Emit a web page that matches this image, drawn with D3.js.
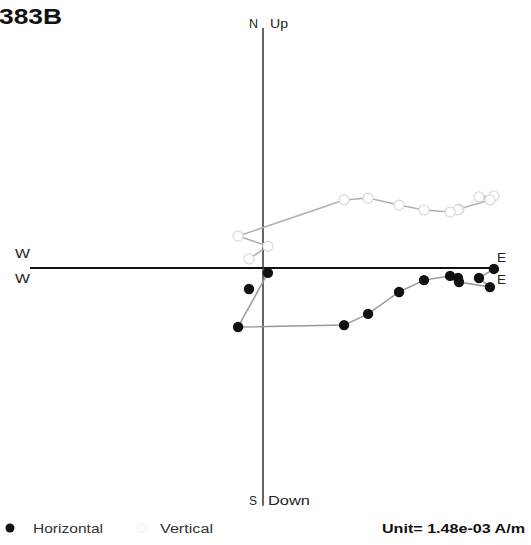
<!DOCTYPE html>
<html><head><meta charset="utf-8">
<script src="https://cdn.jsdelivr.net/npm/d3@7"></script>
<style>body{margin:0;background:#fff}svg{display:block}text{font-family:"Liberation Sans",Arial,sans-serif}</style>
</head><body>
<script>
// Demagnetization steps (arbitrary units; 1 axis half-length = 1)
const east  = [0.991, 0.927, 0.974, 0.841, 0.837, 0.803, 0.691, 0.584, 0.451, 0.348, -0.107, 0.021, -0.060];
const north = [-0.004,-0.043,-0.082,-0.060,-0.043,-0.034,-0.052,-0.103,-0.197,-0.245,-0.253,-0.021,-0.090];
const up    = [0.309, 0.305, 0.292, 0.253, 0.249, 0.240, 0.249, 0.270, 0.300, 0.292, 0.137, 0.094, 0.039];
const hConnected = 12; // horizontal line joins the first 12 steps
const title = "383B";
const unitLabel = "Unit= 1.48e-03 A/m";
const legendLabels = ["Horizontal", "Vertical"];

const W = 531, H = 545;
const svg = d3.select("body").append("svg").attr("width", W).attr("height", H);
const x = d3.scaleLinear().domain([-1, 1]).range([30, 496]);
const y = d3.scaleLinear().domain([-1, 1]).range([501, 35]);

// axes
svg.append("line").attr("x1", x(-1)).attr("x2", x(1.005)).attr("y1", y(0)).attr("y2", y(0))
  .attr("stroke", "#111").attr("stroke-width", 1.8);
svg.append("line").attr("x1", x(0)).attr("x2", x(0)).attr("y1", y(1.03)).attr("y2", y(-1.02))
  .attr("stroke", "#333").attr("stroke-width", 1.5);

function label(t, px, py, len, opts = {}) {
  svg.append("text").attr("x", px).attr("y", py).text(t)
    .attr("font-size", opts.size || 13).attr("font-weight", opts.bold ? "bold" : "normal")
    .attr("fill", opts.fill || "#222")
    .attr("textLength", len).attr("lengthAdjust", "spacingAndGlyphs");
}
label("N", 249, 28, 9); label("Up", 270, 28, 18);
label("S", 249, 505, 8); label("Down", 268, 505, 42);
label("W", 15, 258, 15); label("W", 15, 283, 15);
label("E", 497, 262, 9); label("E", 497, 284, 9);
label(title, -1, 24, 63, {size: 22, bold: true, fill: "#111"});

const idx = d3.range(east.length);
const lineV = d3.line().x(i => x(east[i])).y(i => y(up[i]));
const lineH = d3.line().x(i => x(east[i])).y(i => y(north[i]));

// vertical projection
svg.append("path").attr("d", lineV(idx)).attr("fill", "none").attr("stroke", "#b0b0b0").attr("stroke-width", 1.5);
svg.selectAll("circle.v").data(idx).join("circle").attr("class", "v")
  .attr("cx", i => x(east[i])).attr("cy", i => y(up[i])).attr("r", 5)
  .attr("fill", "#fff").attr("stroke", "#d8d8d8").attr("stroke-width", 1.2);

// horizontal projection
svg.append("path").attr("d", lineH(idx.slice(0, hConnected))).attr("fill", "none").attr("stroke", "#999").attr("stroke-width", 1.5);
svg.selectAll("circle.h").data(idx).join("circle").attr("class", "h")
  .attr("cx", i => x(east[i])).attr("cy", i => y(north[i])).attr("r", 5.2)
  .attr("fill", "#111");

// legend
svg.append("circle").attr("cx", 10).attr("cy", 528).attr("r", 4.5).attr("fill", "#111");
label(legendLabels[0], 33, 533, 70, {size: 12, fill: "#333"});
svg.append("circle").attr("cx", 142).attr("cy", 528).attr("r", 4.5).attr("fill", "#fff").attr("stroke", "#ececec");
label(legendLabels[1], 160, 533, 53, {size: 12, fill: "#333"});
label(unitLabel, 382, 533, 143, {size: 12, bold: true, fill: "#111"});
</script>
</body></html>
